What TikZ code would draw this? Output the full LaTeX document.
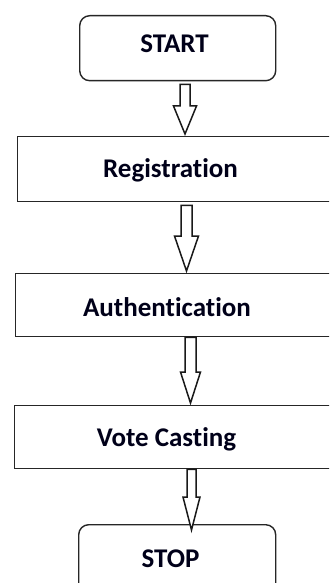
\documentclass[tikz,border=0pt]{standalone}
\usepackage{fontspec}
\setmainfont{Carlito}[Ligatures=NoCommon]
\usetikzlibrary{calc}

\tikzset{
  box/.style={draw=black!85, line width=1.4pt, rectangle, inner sep=0pt, anchor=north west},
  term/.style={box, rounded corners=10pt},
  lbl/.style={font=\fontsize{27}{30}\selectfont\bfseries, text=black!90!blue, anchor=base, inner sep=0pt},
  flowarrow/.style={draw=black!90, line width=1.5pt, fill=white, line join=miter}
}

% hollow block arrow: from node #1 down to node #2 at x = #3 (pt),
% shaft half width #4, head half width #5, gap below #1 #6, head length #7, tip overshoot #8
\newcommand\blockarrow[8]{%
  \path[flowarrow] let \p1=(#1.south), \p2=(#2.north) in
    (#3pt-#4pt,\y1-#6pt) -- (#3pt-#4pt,\y2+#7pt-#8pt) -- (#3pt-#5pt,\y2+#7pt-#8pt)
    -- (#3pt,\y2-#8pt) -- (#3pt+#5pt,\y2+#7pt-#8pt) -- (#3pt+#4pt,\y2+#7pt-#8pt)
    -- (#3pt+#4pt,\y1-#6pt) -- cycle;}

\begin{document}
\begin{tikzpicture}[x=1pt,y=-1pt]
  \clip (0,0) rectangle (329,583);
  \fill[white] (0,0) rectangle (329,583);

  % boxes
  \node[term, minimum width=196pt, minimum height=65pt] (start) at (79,15) {};
  \node[box, minimum width=340pt, minimum height=65pt] (reg) at (17,136) {};
  \node[box, minimum width=340pt, minimum height=63pt] (auth) at (15,273) {};
  \node[box, minimum width=340pt, minimum height=63pt] (vote) at (14,405) {};
  \node[term, minimum width=197pt, minimum height=80pt] (stop) at (78,524) {};

  % labels
  \node[lbl] (startT) at (174.5,53) {START};
  \node[lbl] (regT) at (170.5,177) {Registration};
  \node[lbl] (authT) at (167,316) {Authentication};
  \node[lbl] (voteT) at (166.5,446) {Vote Casting};
  \node[lbl] (stopT) at (170.5,567) {STOP};

  % connectors
  \blockarrow{start}{reg}{185}{5}{11.5}{3}{28}{-2}
  \blockarrow{reg}{auth}{186.5}{5.5}{12}{3}{35}{-2}
  \blockarrow{auth}{vote}{190.5}{5.5}{10}{0}{31}{-2}
  \blockarrow{vote}{stop}{191.5}{4.5}{8.5}{0}{33}{6}
\end{tikzpicture}
\end{document}
